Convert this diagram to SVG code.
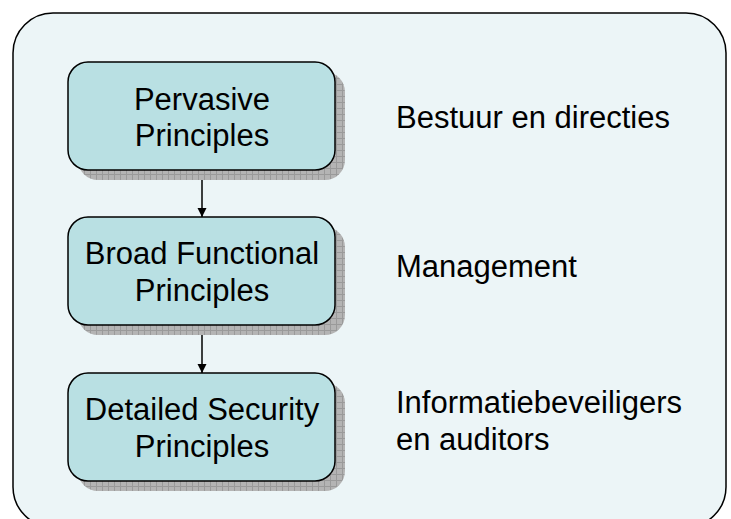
<svg xmlns="http://www.w3.org/2000/svg" width="731" height="519" viewBox="0 0 731 519">
  <style>
    .frame { fill: #ECF5F7; stroke: #000; stroke-width: 1.5; }
    .box { fill: #B9E0E3; stroke: #000; stroke-width: 1.5; }
    .shadow { fill: url(#hatch); }
    .lbl { font-family: "Liberation Sans", Arial, sans-serif; font-size: 31px; fill: #000; }
    .mid { text-anchor: middle; }
    .link { stroke: #000; stroke-width: 1.5; fill: none; marker-end: url(#arrow); }
  </style>
  <defs>
    <pattern id="hatch" width="6" height="6" patternUnits="userSpaceOnUse">
      <rect width="6" height="6" fill="#B4B4B4"/>
      <path d="M0 0.5H6M0.5 0V6" stroke="#9A9A9A" stroke-width="1"/>
    </pattern>
    <marker id="arrow" viewBox="0 0 10 10" refX="10" refY="5" markerWidth="9" markerHeight="10" markerUnits="userSpaceOnUse" orient="auto">
      <path d="M0 0L10 5L0 10z" fill="#000"/>
    </marker>
  </defs>

  <rect class="frame" x="13" y="13" width="713" height="514" rx="40"/>

  <g id="connectors">
    <line class="link" x1="202" y1="170" x2="202" y2="217"/>
    <line class="link" x1="202" y1="325" x2="202" y2="373"/>
  </g>

  <g id="pervasive">
    <rect class="shadow" x="78" y="72" width="267" height="108" rx="20"/>
    <rect class="box" x="68" y="62" width="267" height="108" rx="20"/>
    <text class="lbl mid" x="202" y="110">Pervasive</text>
    <text class="lbl mid" x="202" y="146">Principles</text>
  </g>

  <g id="broad-functional">
    <rect class="shadow" x="78" y="227" width="267" height="108" rx="20"/>
    <rect class="box" x="68" y="217" width="267" height="108" rx="20"/>
    <text class="lbl mid" x="202" y="264">Broad Functional</text>
    <text class="lbl mid" x="202" y="301">Principles</text>
  </g>

  <g id="detailed-security">
    <rect class="shadow" x="78" y="383" width="267" height="108" rx="20"/>
    <rect class="box" x="68" y="373" width="267" height="108" rx="20"/>
    <text class="lbl mid" x="202" y="420">Detailed Security</text>
    <text class="lbl mid" x="202" y="457">Principles</text>
  </g>

  <g id="audience-board">
    <text class="lbl" x="396" y="128">Bestuur en directies</text>
  </g>
  <g id="audience-management">
    <text class="lbl" x="396" y="277">Management</text>
  </g>
  <g id="audience-security">
    <text class="lbl" x="396" y="413">Informatiebeveiligers</text>
    <text class="lbl" x="396" y="450">en auditors</text>
  </g>
</svg>
